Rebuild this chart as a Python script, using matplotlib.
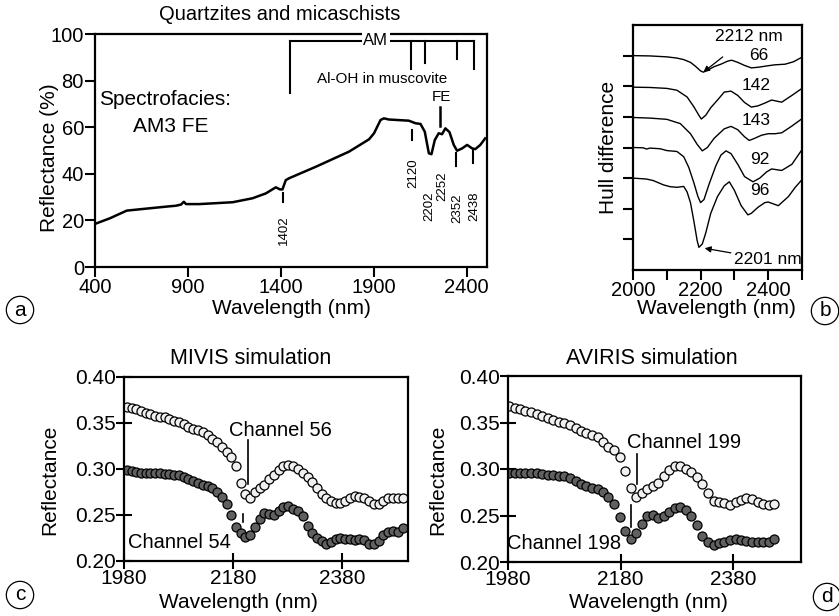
import matplotlib
matplotlib.use("Agg")
import matplotlib.pyplot as plt
import numpy as np

plt.rcParams['font.family'] = ['Liberation Sans', 'DejaVu Sans']

W, H = 839, 616

# ---------------- Panel a data ----------------
a_wl = [400, 480, 571, 657, 782, 836, 863, 878, 890, 962, 1141, 1248, 1320, 1373, 1396,
        1409, 1427, 1445, 1588, 1767, 1875, 1902, 1937, 1955, 1982, 2089, 2125, 2152,
        2175, 2197, 2211, 2229, 2250, 2268, 2286, 2308, 2331, 2349, 2376, 2403, 2430,
        2447, 2474, 2500]
a_ref = [18.5, 20.9, 24.2, 24.9, 25.9, 26.3, 26.8, 28.0, 27.0, 27.0, 27.8, 29.5, 31.6,
         34.2, 33.3, 33.3, 37.3, 38.1, 43.0, 49.5, 54.8, 57.4, 63.1, 63.8, 63.3, 62.8,
         61.7, 61.4, 58.1, 48.8, 48.4, 54.5, 57.4, 57.0, 59.5, 57.9, 52.4, 49.9, 50.9,
         52.4, 50.9, 50.6, 52.4, 55.2]
a_xticks = [400, 900, 1400, 1900, 2400]
a_yticks = [0, 20, 40, 60, 80, 100]
a_bracket_x = [2103, 2174, 2348, 2438]
a_bracket_bottom = [84.8, 87.7, 89.1, 84.8]
a_marks = ['1402', '2120', '2202', '2252', '2352', '2438']

# ---------------- Panel b data ----------------
b_wl_66 = [2000, 2050, 2100, 2130, 2150, 2170, 2185, 2200, 2208, 2220, 2240, 2260, 2280,
           2292, 2310, 2330, 2350, 2370, 2400, 2420, 2450, 2475, 2500]
b_66 = [7.00, 6.99, 6.96, 6.92, 6.87, 6.78, 6.65, 6.50, 6.46, 6.52, 6.64, 6.72, 6.82,
        6.85, 6.78, 6.68, 6.60, 6.62, 6.67, 6.70, 6.72, 6.80, 6.95]
b_wl_142 = [2000, 2050, 2100, 2130, 2160, 2180, 2195, 2202, 2215, 2230, 2250, 2270, 2290,
            2310, 2330, 2350, 2370, 2390, 2410, 2440, 2470, 2500]
b_142 = [5.97, 5.96, 5.93, 5.87, 5.65, 5.33, 5.05, 4.93, 5.05, 5.30, 5.55, 5.81, 5.84,
         5.70, 5.47, 5.32, 5.36, 5.45, 5.55, 5.48, 5.70, 5.93]
b_wl_143 = [2000, 2050, 2100, 2140, 2170, 2190, 2205, 2220, 2240, 2270, 2290, 2310, 2330,
            2344, 2360, 2380, 2400, 2420, 2440, 2470, 2500]
b_143 = [4.98, 4.96, 4.92, 4.78, 4.45, 4.10, 3.89, 4.00, 4.30, 4.61, 4.69, 4.58, 4.35,
         4.23, 4.30, 4.40, 4.45, 4.45, 4.48, 4.70, 4.94]
b_wl_92 = [2000, 2030, 2040, 2050, 2080, 2100, 2130, 2150, 2165, 2180, 2192, 2200, 2210,
           2225, 2245, 2260, 2275, 2290, 2310, 2330, 2355, 2375, 2395, 2410, 2440, 2470, 2500]
b_92 = [4.00, 3.99, 3.95, 3.98, 3.96, 3.90, 3.87, 3.70, 3.35, 2.85, 2.40, 2.20, 2.30,
        2.80, 3.40, 3.75, 3.89, 3.80, 3.45, 3.05, 2.88, 3.00, 3.20, 3.30, 3.25, 3.45, 3.93]
b_wl_96 = [2000, 2040, 2060, 2090, 2110, 2130, 2150, 2160, 2170, 2180, 2190, 2195, 2205,
           2215, 2230, 2250, 2270, 2285, 2300, 2320, 2340, 2350, 2370, 2390, 2400, 2430,
           2460, 2480, 2500]
b_96 = [3.00, 2.97, 2.92, 2.78, 2.72, 2.70, 2.73, 2.55, 2.20, 1.60, 0.95, 0.74, 0.85,
        1.20, 1.85, 2.40, 2.75, 2.88, 2.60, 2.10, 1.80, 1.85, 2.05, 2.20, 2.22, 2.10,
        2.40, 2.70, 2.95]
b_labels = ['66', '142', '143', '92', '96']
b_label_pos = [(2373, 7.0), (2363, 6.03), (2363, 4.89), (2376, 3.62), (2376, 2.58)]

# ---------------- Panel c data (MIVIS) ----------------
c_wl = [1985, 1994, 2002, 2011, 2020, 2028, 2037, 2046, 2055, 2063, 2072, 2081, 2089,
        2098, 2107, 2115, 2124, 2133, 2142, 2150, 2159, 2168, 2176, 2185, 2194, 2202,
        2211, 2220, 2229, 2237, 2246, 2255, 2263, 2272, 2281, 2290, 2298, 2307, 2316,
        2324, 2333, 2342, 2350, 2359, 2368, 2376, 2385, 2394, 2403, 2411, 2420, 2429,
        2437, 2446, 2455, 2463, 2472, 2481, 2490]
c_upper = [0.367, 0.366, 0.365, 0.363, 0.361, 0.360, 0.358, 0.357, 0.356, 0.354, 0.352,
           0.351, 0.349, 0.346, 0.344, 0.342, 0.340, 0.337, 0.333, 0.329, 0.324, 0.319,
           0.313, 0.303, 0.285, 0.273, 0.268, 0.275, 0.279, 0.283, 0.289, 0.294, 0.299,
           0.303, 0.304, 0.303, 0.300, 0.296, 0.291, 0.286, 0.279, 0.273, 0.268, 0.265,
           0.263, 0.263, 0.265, 0.269, 0.271, 0.270, 0.268, 0.265, 0.262, 0.262, 0.265,
           0.268, 0.268, 0.269, 0.268]
c_lower = [0.299, 0.298, 0.297, 0.296, 0.296, 0.296, 0.296, 0.296, 0.295, 0.295, 0.294,
           0.293, 0.291, 0.289, 0.287, 0.285, 0.283, 0.281, 0.279, 0.275, 0.270, 0.262,
           0.250, 0.237, 0.230, 0.226, 0.228, 0.237, 0.246, 0.252, 0.251, 0.250, 0.254,
           0.259, 0.260, 0.257, 0.254, 0.249, 0.238, 0.230, 0.225, 0.222, 0.219, 0.221,
           0.224, 0.225, 0.224, 0.224, 0.223, 0.224, 0.223, 0.219, 0.219, 0.222, 0.228,
           0.232, 0.233, 0.232, 0.236]

# ---------------- Panel d data (AVIRIS) ----------------
d_wl = [1982, 1992, 2002, 2011, 2021, 2031, 2041, 2051, 2060, 2070, 2080, 2090, 2100,
        2109, 2119, 2129, 2139, 2149, 2158, 2168, 2178, 2188, 2198, 2207, 2217, 2227,
        2237, 2247, 2256, 2266, 2276, 2286, 2296, 2305, 2315, 2325, 2335, 2345, 2354,
        2364, 2374, 2384, 2394, 2403, 2413, 2423, 2433, 2443, 2452]
d_upper = [0.368, 0.366, 0.364, 0.362, 0.361, 0.359, 0.357, 0.355, 0.353, 0.351, 0.349,
           0.347, 0.344, 0.341, 0.339, 0.337, 0.334, 0.329, 0.324, 0.320, 0.313, 0.298,
           0.280, 0.270, 0.274, 0.278, 0.282, 0.285, 0.293, 0.299, 0.303, 0.303, 0.300,
           0.297, 0.291, 0.284, 0.274, 0.266, 0.264, 0.263, 0.261, 0.265, 0.267, 0.269,
           0.268, 0.265, 0.262, 0.261, 0.262]
d_lower = [0.296, 0.296, 0.296, 0.296, 0.296, 0.296, 0.295, 0.294, 0.294, 0.293, 0.292,
           0.290, 0.287, 0.284, 0.282, 0.280, 0.278, 0.275, 0.270, 0.262, 0.248, 0.233,
           0.225, 0.231, 0.241, 0.250, 0.251, 0.247, 0.249, 0.254, 0.258, 0.259, 0.256,
           0.250, 0.240, 0.228, 0.221, 0.218, 0.220, 0.222, 0.224, 0.225, 0.224, 0.223,
           0.222, 0.222, 0.222, 0.222, 0.225]
cd_xticks = [1980, 2180, 2380]
cd_yticks = [0.20, 0.25, 0.30, 0.35, 0.40]


def rect(l, t, r, b):
    return [l / W, 1 - b / H, (r - l) / W, (b - t) / H]


def ftext(x, y, s, **kw):
    fig.text(x / W, 1 - y / H, s, **kw)


fig = plt.figure(figsize=(W / 100, H / 100), dpi=100)

# ================= Panel a =================
ax = fig.add_axes(rect(95, 34, 487, 267))
ax.plot(a_wl, a_ref, color='black', lw=1.8)
ax.set_xlim(400, 2510)
ax.set_ylim(0, 100)
ax.set_xticks(a_xticks)
ax.set_yticks(a_yticks)
ax.tick_params(direction='out', length=7, width=1.5, labelsize=14.5, pad=1)
for s in ax.spines.values():
    s.set_linewidth(1.6)
# AM bracket
ax.plot([1452, 1452], [74.5, 97.1], color='black', lw=1.5)
ax.plot([1452, 2438], [97.1, 97.1], color='black', lw=1.5)
for x, yb in zip(a_bracket_x, a_bracket_bottom):
    ax.plot([x, x], [yb, 97.1], color='black', lw=1.5)
ax.text(1912, 97.1, 'AM', ha='center', va='center', fontsize=12,
        bbox=dict(fc='white', ec='none', pad=1))
ax.text(1946, 80.5, 'Al-OH in muscovite', ha='center', va='center', fontsize=11)
ax.plot([2255, 2255], [60.5, 68.5], color='black', lw=1.8)
ax.text(2265, 73.1, 'FE', ha='center', va='center', fontsize=11)
ax.text(776, 72, 'Spectrofacies:', ha='center', va='center', fontsize=15)
ax.text(806, 60.5, 'AM3 FE', ha='center', va='center', fontsize=15)
# small marks
ax.plot([1411, 1411], [28.0, 31.6], color='black', lw=1.5)
ax.plot([2108, 2108], [54.5, 58.8], color='black', lw=1.5)
ax.plot([2344, 2344], [43.5, 48.8], color='black', lw=1.5)
ax.plot([2434, 2434], [44.6, 50.2], color='black', lw=1.5)
mark_pos = [(1416, 15.9), (2113, 40.2), (2198, 25.9), (2269, 34.5), (2349, 25.2), (2440, 25.9)]
for lab, (x, y) in zip(a_marks, mark_pos):
    ax.text(x, y, lab, rotation=90, ha='center', va='center', fontsize=9.5)
ftext(280, 15, 'Quartzites and micaschists', ha='center', va='center', fontsize=14.5)
ftext(291, 309, 'Wavelength (nm)', ha='center', va='center', fontsize=15)
ftext(50, 158, 'Reflectance (%)', ha='center', va='center', rotation=90, fontsize=15)

# ================= Panel b =================
bx = fig.add_axes(rect(633, 25, 802, 270))
for wl, vals in [(b_wl_66, b_66), (b_wl_142, b_142), (b_wl_143, b_143),
                 (b_wl_92, b_92), (b_wl_96, b_96)]:
    bx.plot(wl, vals, color='black', lw=1.0)
bx.set_xlim(2000, 2500)
bx.set_ylim(0, 8)
bx.set_xticks([2000, 2200, 2400])
bx.set_xticks([2100, 2300, 2500], minor=True)
bx.set_yticks([1, 2, 3, 4, 5, 6, 7])
bx.set_yticklabels([])
bx.tick_params(which='both', direction='out', length=7, width=1.5, labelsize=14.5, pad=1)
for s in bx.spines.values():
    s.set_linewidth(1.6)
for lab, (x, y) in zip(b_labels, b_label_pos):
    bx.text(x, y, lab, ha='center', va='center', fontsize=12.5)
bx.annotate('2212 nm', xy=(2208, 6.46), xytext=(2343, 7.63), ha='center', va='center',
            fontsize=12.5, arrowprops=dict(arrowstyle='-|>', color='black', lw=0.9,
                                           mutation_scale=9, shrinkA=12, shrinkB=0))
bx.annotate('2201 nm', xy=(2212, 0.71), xytext=(2398, 0.35), ha='center', va='center',
            fontsize=12.5, arrowprops=dict(arrowstyle='-|>', color='black', lw=0.9,
                                           mutation_scale=9, shrinkA=28, shrinkB=0))
ftext(716, 309, 'Wavelength (nm)', ha='center', va='center', fontsize=15)
ftext(608, 147, 'Hull difference', ha='center', va='center', rotation=90, fontsize=15)

# ================= Panels c and d =================
def sim_panel(r, wl, up, lo, title, title_x, ylab_x, xlab_x, ann):
    cx = fig.add_axes(rect(*r))
    cx.plot(wl, up, 'o', ms=6.5, mfc='#f0f0f0', mec='black', mew=0.9)
    cx.plot(wl, lo, 'o', ms=6.5, mfc='#606060', mec='black', mew=0.9)
    cx.set_xlim(1980, 2500)
    cx.set_ylim(0.20, 0.40)
    cx.set_xticks(cd_xticks)
    cx.set_yticks(cd_yticks)
    cx.set_yticklabels(['%.2f' % v for v in cd_yticks])
    cx.tick_params(direction='inout', length=12, width=1.5, labelsize=15, pad=0)
    for s in cx.spines.values():
        s.set_linewidth(1.6)
    (t1, x1, y1, lx1, ly1a, ly1b), (t2, x2, y2, lx2, ly2a, ly2b) = ann
    cx.text(x1, y1, t1, ha='left', va='center', fontsize=14.5)
    cx.plot([lx1, lx1], [ly1a, ly1b], color='black', lw=1.2)
    cx.text(x2, y2, t2, ha='right', va='center', fontsize=14.5)
    cx.plot([lx2, lx2], [ly2a, ly2b], color='black', lw=1.2)
    ftext(title_x, 358, title, ha='center', va='center', fontsize=15.5)
    ftext(xlab_x, 602, 'Wavelength (nm)', ha='center', va='center', fontsize=15)
    ftext(ylab_x, 480, 'Reflectance', ha='center', va='center', rotation=90, fontsize=15)
    return cx


sim_panel((124, 377, 408, 561), c_wl, c_upper, c_lower, 'MIVIS simulation', 251, 50, 238,
          [('Channel 56', 2172, 0.342, 2207, 0.331, 0.284),
           ('Channel 54', 2176, 0.220, 2197, 0.2515, 0.2424)])
sim_panel((508, 376, 801, 562), d_wl, d_upper, d_lower, 'AVIRIS simulation', 652, 438, 648,
          [('Channel 199', 2192, 0.329, 2209, 0.3166, 0.2843),
           ('Channel 198', 2180, 0.2198, 2198, 0.261, 0.2377)])

# circled panel letters
for lab, (x, y) in zip(['a', 'b', 'c', 'd'], [(20, 310), (825, 311), (20, 595), (827, 597)]):
    ftext(x, y, lab, ha='center', va='center', fontsize=15,
          bbox=dict(boxstyle='circle,pad=0.2', fc='white', ec='black', lw=0.9))

fig.savefig('out.png', dpi=100)
